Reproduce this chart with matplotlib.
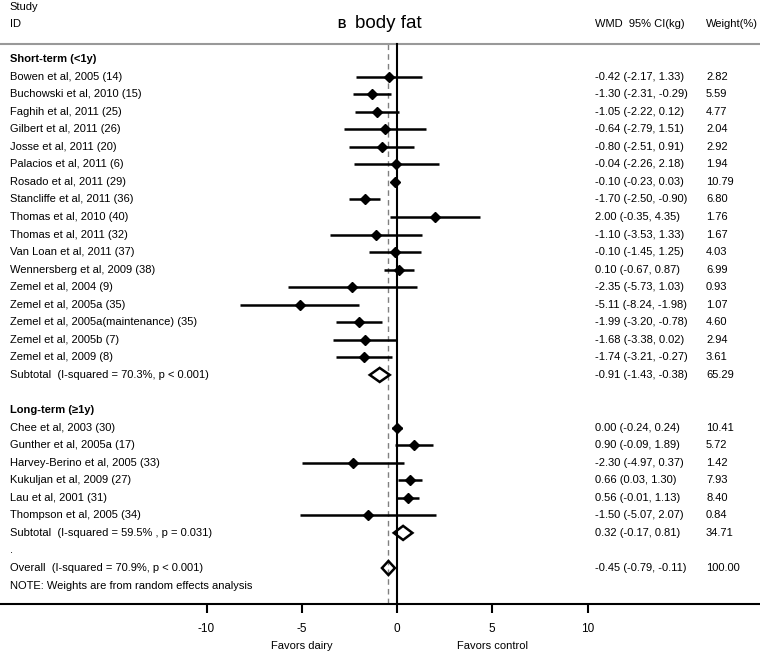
import matplotlib
matplotlib.use('Agg')
import matplotlib.pyplot as plt
from matplotlib.patches import Polygon

plt.rcParams['font.family'] = 'Liberation Sans'
plt.rcParams['axes.unicode_minus'] = False

# data: short-term studies (<1y)
short_ids = ['Bowen et al, 2005 (14)', 'Buchowski et al, 2010 (15)', 'Faghih et al, 2011 (25)',
             'Gilbert et al, 2011 (26)', 'Josse et al, 2011 (20)', 'Palacios et al, 2011 (6)',
             'Rosado et al, 2011 (29)', 'Stancliffe et al, 2011 (36)', 'Thomas et al, 2010 (40)',
             'Thomas et al, 2011 (32)', 'Van Loan et al, 2011 (37)', 'Wennersberg et al, 2009 (38)',
             'Zemel et al, 2004 (9)', 'Zemel et al, 2005a (35)', 'Zemel et al, 2005a(maintenance) (35)',
             'Zemel et al, 2005b (7)', 'Zemel et al, 2009 (8)']
short_wmd = [-0.42, -1.30, -1.05, -0.64, -0.80, -0.04, -0.10, -1.70, 2.00, -1.10, -0.10, 0.10,
             -2.35, -5.11, -1.99, -1.68, -1.74]
short_lo = [-2.17, -2.31, -2.22, -2.79, -2.51, -2.26, -0.23, -2.50, -0.35, -3.53, -1.45, -0.67,
            -5.73, -8.24, -3.20, -3.38, -3.21]
short_hi = [1.33, -0.29, 0.12, 1.51, 0.91, 2.18, 0.03, -0.90, 4.35, 1.33, 1.25, 0.87,
            1.03, -1.98, -0.78, 0.02, -0.27]
short_wt = [2.82, 5.59, 4.77, 2.04, 2.92, 1.94, 10.79, 6.80, 1.76, 1.67, 4.03, 6.99,
            0.93, 1.07, 4.60, 2.94, 3.61]
short_sub = (-0.91, -1.43, -0.38, 65.29)
short_sub_label = 'Subtotal  (I-squared = 70.3%, p < 0.001)'

# long-term studies (>=1y)
long_ids = ['Chee et al, 2003 (30)', 'Gunther et al, 2005a (17)', 'Harvey-Berino et al, 2005 (33)',
            'Kukuljan et al, 2009 (27)', 'Lau et al, 2001 (31)', 'Thompson et al, 2005 (34)']
long_wmd = [0.00, 0.90, -2.30, 0.66, 0.56, -1.50]
long_lo = [-0.24, -0.09, -4.97, 0.03, -0.01, -5.07]
long_hi = [0.24, 1.89, 0.37, 1.30, 1.13, 2.07]
long_wt = [10.41, 5.72, 1.42, 7.93, 8.40, 0.84]
long_sub = (0.32, -0.17, 0.81, 34.71)
long_sub_label = 'Subtotal  (I-squared = 59.5% , p = 0.031)'

overall = (-0.45, -0.79, -0.11, 100.00)
overall_label = 'Overall  (I-squared = 70.9%, p < 0.001)'

groups = [('Short-term (<1y)', short_ids, short_wmd, short_lo, short_hi, short_wt, short_sub, short_sub_label),
          ('Long-term (\u22651y)', long_ids, long_wmd, long_lo, long_hi, long_wt, long_sub, long_sub_label)]

xticks = [-10, -5, 0, 5, 10]

# figure: one axes, bottom spine is the x axis of the forest plot
fig = plt.figure(figsize=(7.6, 6.52), dpi=100)
ax = fig.add_axes([0, 48 / 652, 1, 604 / 652])
ax.set_xlim(-397 / 19.05, 363 / 19.05)
ax.set_ylim(31.05, -3.36)
for s in ['top', 'left', 'right']:
    ax.spines[s].set_visible(False)
ax.spines['bottom'].set_linewidth(1.5)
ax.set_yticks([])
ax.set_xticks(xticks)
ax.set_xticklabels([str(t) for t in xticks])
ax.tick_params(axis='x', direction='out', length=6.5, width=1.5, pad=7.5, labelsize=8.5)

tr = ax.get_yaxis_transform()
fs = 8
col_id, col_wmd, col_wt = 0.013, 0.783, 0.929


def row_text(y, label, est, lo, hi, wt, bold=False):
    ax.text(col_id, y, label, transform=tr, fontsize=fs, va='center', ha='left',
            fontweight='bold' if bold else 'normal')
    if est is not None:
        ax.text(col_wmd, y, '%.2f (%.2f, %.2f)' % (est, lo, hi), transform=tr, fontsize=fs, va='center')
        ax.text(col_wt, y, '%.2f' % wt, transform=tr, fontsize=fs, va='center')


def diamond(y, est, lo, hi):
    h = 0.4
    ax.add_patch(Polygon([(lo, y), (est, y - h), (hi, y), (est, y + h)], closed=True,
                         facecolor='none', edgecolor='black', lw=1.8, zorder=4))


# headers
ax.text(col_id, -2.95, 'Study', transform=tr, fontsize=fs, va='center')
ax.text(col_id, -2.0, 'ID', transform=tr, fontsize=fs, va='center')
ax.text(col_wmd, -2.0, 'WMD  95% CI(kg)', transform=tr, fontsize=fs, va='center')
ax.text(col_wt, -2.0, 'Weight(%)', transform=tr, fontsize=fs, va='center')
ax.text(337 / 760, -1.95, 'B', transform=tr, fontsize=8.5, fontweight='bold', va='center')
ax.text(355 / 760, -2.0, 'body fat', transform=tr, fontsize=13.5, va='center')
ax.axhline(-0.85, color='0.6', lw=1.5)

row = 0
for name, ids, wmd, lo, hi, wt, sub, sub_label in groups:
    row_text(row, name, None, None, None, None, bold=True)
    row += 1
    for i in range(len(ids)):
        ax.plot([lo[i], hi[i]], [row, row], color='black', lw=1.8, solid_capstyle='butt', zorder=3)
        ax.plot(wmd[i], row, marker='D', ms=4.6, color='black', zorder=4)
        row_text(row, ids[i], wmd[i], lo[i], hi[i], wt[i])
        row += 1
    diamond(row, sub[0], sub[1], sub[2])
    row_text(row, sub_label, *sub)
    row += 2

row -= 1
ax.text(col_id, row, '.', transform=tr, fontsize=fs, va='center')
row += 1
diamond(row, overall[0], overall[1], overall[2])
row_text(row, overall_label, *overall)
row += 1
ax.text(col_id, row, 'NOTE: Weights are from random effects analysis', transform=tr, fontsize=fs, va='center')

# reference lines
ax.plot([0, 0], [-0.85, 31.05], color='black', lw=1.5, zorder=2)
ax.plot([overall[0], overall[0]], [-0.85, 31.05], color='0.5', lw=1.0, ls=(0, (4, 3)), zorder=1)

ax.text(-5, -0.07, 'Favors dairy', transform=ax.get_xaxis_transform(), fontsize=fs, ha='center', va='center')
ax.text(5, -0.07, 'Favors control', transform=ax.get_xaxis_transform(), fontsize=fs, ha='center', va='center')

fig.savefig('out.png', dpi=100)
